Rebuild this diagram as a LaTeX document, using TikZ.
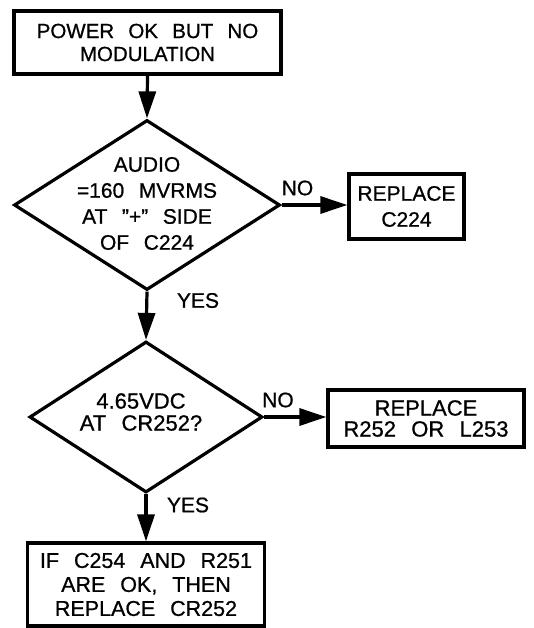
\documentclass[tikz,border=0pt]{standalone}
\usepackage{fontspec}
\setmainfont[WordSpace=2.5,FakeBold=0.8]{Liberation Sans}
\usetikzlibrary{shapes.geometric,arrows.meta}
\begin{document}
\begin{tikzpicture}[x=1pt,y=-1pt,
  box/.style={draw, line width=3.2pt, rectangle, inner sep=0pt, align=center, font=\fontsize{21}{23}\selectfont},
  decision/.style={draw, line width=3.2pt, diamond, inner sep=0pt},
  txt/.style={align=center, inner sep=0pt, font=\fontsize{21}{22}\selectfont},
  flow/.style={line width=3.2pt, -{Triangle[length=27pt,width=17pt]}},
]
\useasboundingbox (0,0) rectangle (533,628);

\node[box, minimum width=267pt, minimum height=63pt, font=\fontsize{20.5}{23}\selectfont] (start) at (147.5,42.5) {POWER OK BUT NO\\MODULATION};

\node[decision, minimum width=266pt, minimum height=170pt] (q1) at (147,205) {};
\node[txt, font=\fontsize{21}{26}\selectfont] (q1t) at (147,203.5) {AUDIO\\=160 MVRMS\\AT ”+” SIDE\\OF C224};

\node[box, minimum width=115pt, minimum height=65pt, font=\fontsize{21}{26}\selectfont] (r1) at (406.5,206.5) {REPLACE\\C224};

\node[decision, minimum width=233pt, minimum height=151pt] (q2) at (146,417) {};
\node[txt, font=\fontsize{22}{22}\selectfont] (q2t) at (141,412) {4.65VDC\\AT CR252?};

\node[box, minimum width=196pt, minimum height=57pt, font=\fontsize{22}{21}\selectfont] (r2) at (426,418.5) {REPLACE\\R252 OR L253};

\node[box, minimum width=237pt, minimum height=83pt, font=\fontsize{21.5}{24}\selectfont] (end) at (146,584.5) {IF C254 AND R251\\ARE OK, THEN\\REPLACE CR252};

\node[txt] (no1) at (297.5,188) {NO};
\node[txt] (yes1) at (198,300.5) {YES};
\node[txt] (no2) at (278,400) {NO};
\node[txt] (yes2) at (188,505) {YES};

\draw[flow] (start.south) -- (q1.north);
\draw[flow] (q1.east) -- (r1.west |- q1.east);
\draw[flow] (q1.south) -- (q2.north);
\draw[flow] (q2.east) -- (r2.west |- q2.east);
\draw[flow] (q2.south) -- (end.north);
\end{tikzpicture}
\end{document}
